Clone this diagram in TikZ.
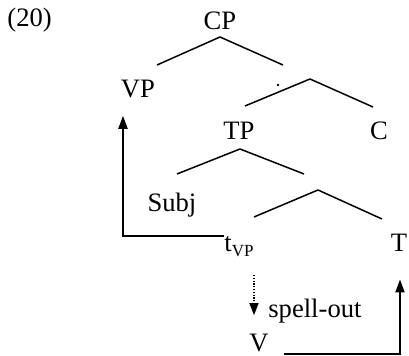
\documentclass[tikz,border=0pt]{standalone}
\usepackage{fontspec}
\setmainfont{Liberation Serif}
\usetikzlibrary{arrows.meta}

\begin{document}
\begin{tikzpicture}[
    x=0.5pt, y=-0.5pt,
    lab/.style={inner sep=0pt, font=\fontsize{13.3}{15}\selectfont},
    branch/.style={line width=0.75pt},
    move/.style={line width=1pt, -{Triangle[width=4.5pt,length=6.5pt]}},
    spell/.style={line width=0.6pt, dash pattern=on 0.6pt off 0.8pt,
        -{Triangle[width=4.5pt,length=6pt]}}
]
    \useasboundingbox (0,0) rectangle (409,356);
    % labels
    \node[lab, anchor=base west] (ex) at (7,27) {(20)};
    \node[lab, anchor=base] (cp) at (220,30) {CP};
    \node[lab, anchor=base] (vp) at (138,98) {VP};
    \node[lab, anchor=base] (tp) at (239,140) {TP};
    \node[lab, anchor=base] (c) at (379,140) {C};
    \node[lab, anchor=base] (subj) at (172,212) {Subj};
    \node[lab, anchor=base west] (tvp) at (224,252)
        {t\raisebox{-0.35ex}{\fontsize{8.5}{10}\selectfont VP}};
    \node[lab, anchor=base] (t) at (399,252) {T};
    \node[lab, anchor=base west] (spellout) at (268,318) {spell-out};
    \node[lab, anchor=base] (v) at (259,352) {V};
    % branching points
    \coordinate (cpA) at (220,37);
    \coordinate (cbar) at (310,79);
    \coordinate (tpA) at (240,149);
    \coordinate (tbar) at (318,190);
    % tree
    \draw[branch] (cpA) -- ++(-63,28);
    \draw[branch] (cpA) -- ++(63,28);
    \draw[branch] (cbar) -- ++(-65,27);
    \draw[branch] (cbar) -- ++(63,28);
    \fill (278,85) circle (0.7pt);
    \draw[branch] (tpA) -- ++(-63,25);
    \draw[branch] (tpA) -- ++(64,25);
    \draw[branch] (tbar) -- ++(-64,27);
    \draw[branch] (tbar) -- ++(64,29);
    % movement
    \draw[move, shorten >=8.5pt] ([yshift=8pt]tvp.base west)
        -| ([xshift=-7.5pt]vp.south);
    \draw[spell] ([xshift=15pt,yshift=-11.5pt]tvp.base west)
        -- ([xshift=-2.5pt,yshift=9.5pt]v.north);
    \draw[move, shorten >=13.5pt] ([xshift=7.5pt,yshift=-1pt]v.base east)
        -| ([xshift=0.5pt]t.south);
\end{tikzpicture}
\end{document}
